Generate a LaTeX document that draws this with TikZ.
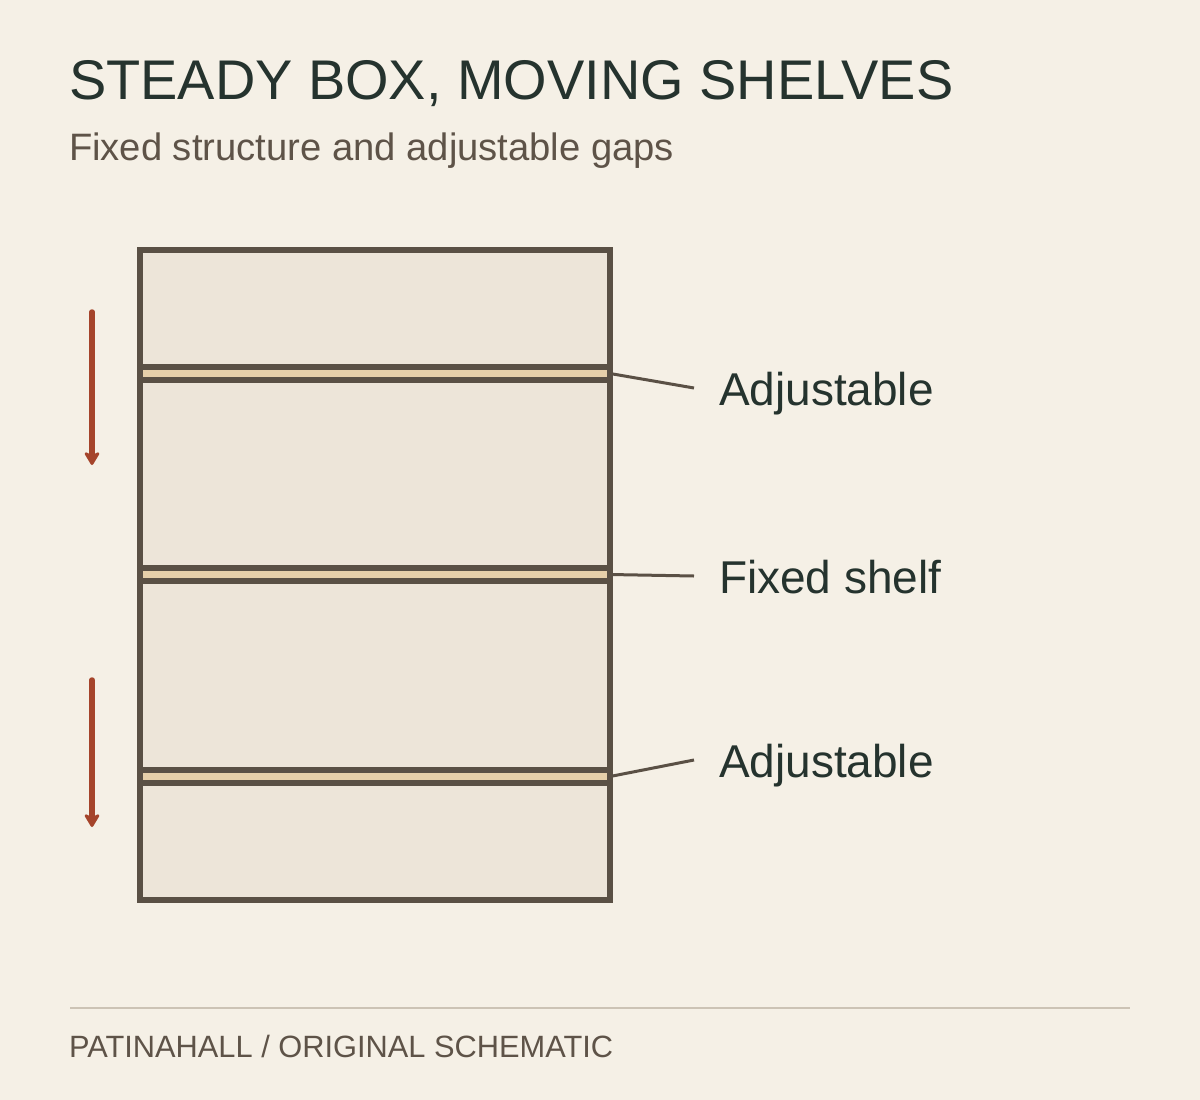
\documentclass[tikz,border=0pt]{standalone}
\usepackage{fontspec}
\setmainfont{Liberation Sans}
\usetikzlibrary{arrows.meta}
\definecolor{paper}{HTML}{F5F0E6}
\definecolor{boxfill}{HTML}{EDE5D9}
\definecolor{wood}{HTML}{5A5045}
\definecolor{plank}{HTML}{E6CFAA}
\definecolor{ink}{HTML}{25332E}
\definecolor{muted}{HTML}{5E5348}
\definecolor{rule}{HTML}{CCC3B5}
\definecolor{rust}{HTML}{A5442B}

\begin{document}
\begin{tikzpicture}[x=1pt,y=-1pt]
            \tikzstyle{every node}+=[inner sep=0pt,outer sep=0pt]
            \tikzstyle{shelf}=[draw=wood,fill=plank,line width=6pt,minimum width=470pt,minimum height=13pt]
            \tikzstyle{leader}=[draw=wood,line width=3pt]
            \tikzstyle{lab}=[anchor=base west,text=ink,font=\fontsize{46}{50}\selectfont]
            \tikzstyle{move}=[draw=rust,line width=5.5pt,line cap=round,-{Stealth[length=16pt,width=19pt,inset=5pt,round]}]
            \fill [paper] (0,0) rectangle (1200,1100);
            \node [anchor=base west,text=ink,font=\fontsize{55.9}{60}\selectfont] (title) at (69,99) {STEADY BOX, MOVING SHELVES};
            \node [anchor=base west,text=muted,font=\fontsize{38.2}{42}\selectfont] (sub) at (69,160) {Fixed structure and adjustable gaps};
            \node [draw=wood,fill=boxfill,line width=6pt,minimum width=470pt,minimum height=650pt] (box) at (375,575) {};
            \node [shelf] (shelfA) at (375,373.5) {};
            \node [shelf] (shelfB) at (375,574.5) {};
            \node [shelf] (shelfC) at (375,776.5) {};
            \coordinate (endA) at (694,388);
            \coordinate (endB) at (694,576);
            \coordinate (endC) at (694,760);
            \draw [leader] (shelfA.east) -- (endA);
            \draw [leader] (shelfB.east) -- (endB);
            \draw [leader] (shelfC.east) -- (endC);
            \node [lab] (labA) at (719,405) {Adjustable};
            \node [lab] (labB) at (719,593) {Fixed shelf};
            \node [lab] (labC) at (719,777) {Adjustable};
            \coordinate (topA) at (92,312);
            \coordinate (botA) at (92,465);
            \coordinate (topC) at (92,680);
            \coordinate (botC) at (92,827);
            \draw [move] (topA) -- (botA);
            \draw [move] (topC) -- (botC);
            \coordinate (ruleL) at (70,1008);
            \coordinate (ruleR) at (1130,1008);
            \draw [rule,line width=2pt] (ruleL) -- (ruleR);
            \node [anchor=base west,text=muted,font=\fontsize{30.8}{34}\selectfont] (foot) at (69,1057) {PATINAHALL / ORIGINAL SCHEMATIC};
        \end{tikzpicture}
\end{document}
